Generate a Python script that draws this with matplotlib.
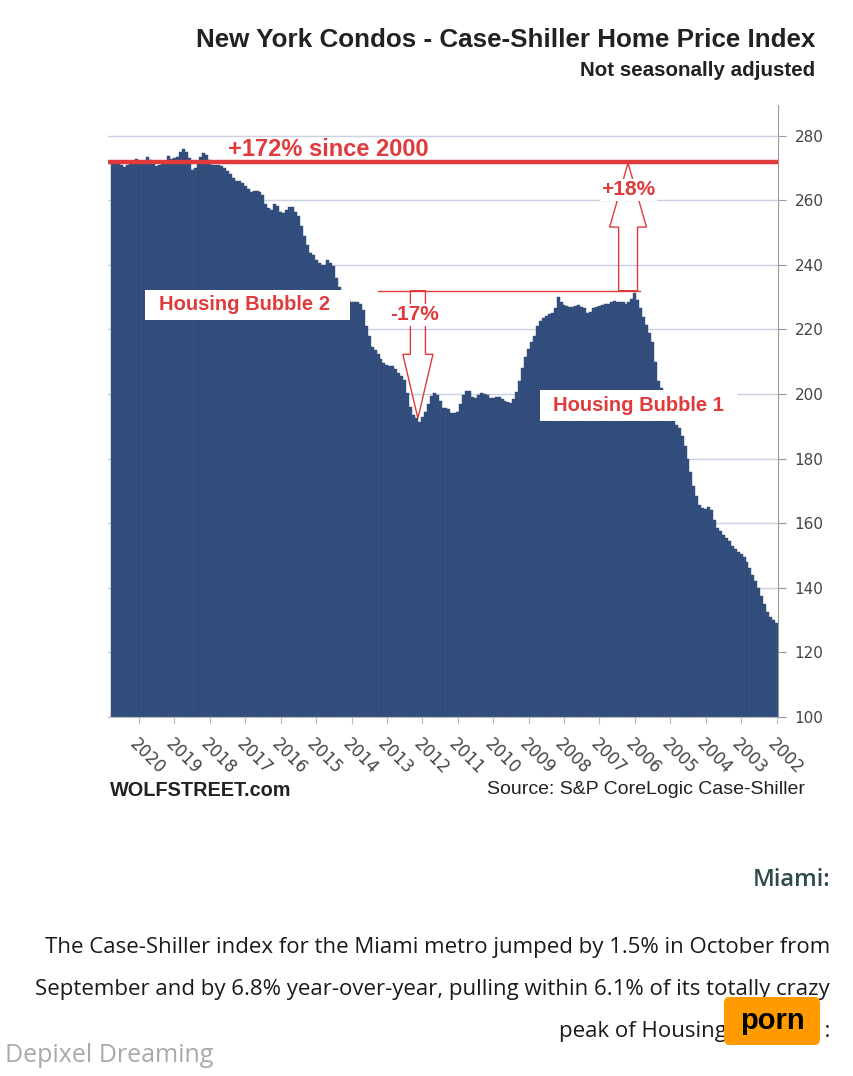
import matplotlib
matplotlib.use("Agg")
import matplotlib.pyplot as plt
from matplotlib.patches import Rectangle, FancyArrow, FancyBboxPatch
import numpy as np

# monthly index, Jan 2002 .. Oct 2020
index_values = [
    # 2002
    129, 130, 131, 132.5, 135, 137.5, 140, 142, 144, 146, 148, 149.5,
    # 2003
    150.5, 151, 152, 153, 154.5, 155.5, 156.5, 157.5, 158.5, 161, 164, 165,
    # 2004
    164.5, 164.8, 165.6, 168.5, 171.5, 176, 180, 184, 187, 189.5, 190.5, 193,
    # 2005
    195, 197.5, 200, 202, 204, 210, 216, 219, 221.5, 224, 226.5, 229,
    # 2006
    231.3, 229.5, 228.5, 228, 228.5, 228.5, 228.5, 228.8, 228.5, 228, 227.8, 227.5,
    # 2007
    227.2, 227, 226.5, 225.5, 225, 226.5, 227, 227.5, 227.2, 227, 227, 227.2,
    # 2008
    227.5, 228.5, 230, 226.6, 225, 224.7, 224.2, 223.5, 222.5, 221, 218, 216,
    # 2009
    214, 211.5, 208, 204, 200.5, 198.5, 197.3, 197.5, 198, 198.5, 199, 199,
    # 2010
    198.8, 198.8, 199.7, 200, 200.3, 199.7, 198.8, 199, 201, 200.8, 199.8, 197,
    # 2011
    194.4, 194, 194.2, 195.5, 195.7, 195.7, 198, 199.7, 200.3, 199.5, 197, 194.5,
    # 2012
    193, 191.3, 192.5, 193.5, 196, 200.3, 204.5, 205.6, 206.5, 207.8, 208.6, 208.8,
    # 2013
    209, 209.7, 210.7, 212.5, 213.5, 214.6, 218, 221, 226, 228, 228.5, 228.5,
    # 2014
    228.5, 229.5, 230.5, 231.5, 233, 236, 239.5, 240.5, 241.5, 240, 240, 240.5,
    # 2015
    241.5, 243, 243.7, 246, 249, 252, 255, 256.5, 258, 258, 257, 256,
    # 2016
    256.5, 258.3, 258.8, 257, 257.5, 259, 261.6, 262.5, 263, 263, 262.5, 263.5,
    # 2017
    264.5, 265.5, 266, 266, 266.8, 268, 269, 270, 270.6, 271, 271, 271,
    # 2018
    272.5, 274, 274.6, 273.5, 271.5, 270, 269.3, 273, 275, 275.9, 275, 273.4,
    # 2019
    273, 272.8, 273.7, 272, 271.5, 271, 270.6, 271.8, 272.5, 273.4, 272, 271.8,
    # 2020
    271.8, 272.8, 272, 271.5, 270.8, 270.3, 271, 271.2, 271.2, 271.2,
]
years = list(range(2002, 2021))
year_labels = [str(y) for y in years]
y_ticks = [100, 120, 140, 160, 180, 200, 220, 240, 260, 280]

since_2000 = 272      # +172% since Jan 2000 = 100
bubble1_peak = 232
bubble2_trough = 192.5

NAVY = "#34507e"
RED = "#e03a3c"
GREY = "#444444"

fig = plt.figure(figsize=(8.54, 10.76), dpi=100)
W, H = 854, 1076
ax = fig.add_axes([108 / W, 1 - 717 / H, 670 / W, 612 / H])

x = np.arange(len(index_values))
ax.bar(x, index_values, width=1.0, color=NAVY, edgecolor="#2c4672", linewidth=0.3, zorder=2)

ax.set_xlim(len(index_values) + 0.5, -0.5)   # mirrored: newest on the left
ax.set_ylim(100, 289.5)
ax.yaxis.tick_right()
ax.set_yticks(y_ticks)
ax.tick_params(axis="y", length=6, color="#999999", labelsize=11, labelcolor=GREY, pad=6)
ax.set_xticks([12 * (y - 2002) for y in years])
ax.set_xticklabels(year_labels, rotation=-45, ha="left", va="top", rotation_mode="anchor")
ax.tick_params(axis="x", length=5, color="#bbbbbb", labelsize=12, labelcolor=GREY, pad=8)

for s in ["top", "left"]:
    ax.spines[s].set_visible(False)
ax.spines["right"].set_color("#999999")
ax.spines["bottom"].set_color("#bbbbbb")
ax.yaxis.grid(True, color="#c9d1e3", lw=1)
ax.set_axisbelow(True)

# +172% line
ax.axhline(since_2000, color=RED, lw=3.2, zorder=4)
ax.text(152, 275.6, "+172% since 2000", color=RED, fontsize=17, fontweight="bold",
        family="Liberation Sans", ha="center", va="center", zorder=5)

# thin line at the bubble 1 peak
ax.plot([135, 46.3], [bubble1_peak, bubble1_peak], color=RED, lw=1, zorder=4)

# hollow arrows
ax.add_patch(FancyArrow(121.5, bubble1_peak, 0, bubble2_trough - bubble1_peak, width=5.1,
                        head_width=10.2, head_length=19.8, length_includes_head=True,
                        facecolor="none", edgecolor=RED, lw=1, zorder=4))
ax.add_patch(FancyArrow(50.3, bubble1_peak, 0, since_2000 - 0.5 - bubble1_peak, width=6.4,
                        head_width=12.5, head_length=19.8, length_includes_head=True,
                        facecolor="none", edgecolor=RED, lw=1, zorder=4))
ax.text(122.6, 224.5, "-17%", color=RED, fontsize=15, fontweight="bold", family="Liberation Sans",
        ha="center", va="center", zorder=5,
        bbox=dict(facecolor="white", edgecolor="none", pad=1))
ax.text(50.3, 263.2, "+18%", color=RED, fontsize=15, fontweight="bold", family="Liberation Sans",
        ha="center", va="center", zorder=5,
        bbox=dict(facecolor="white", edgecolor="none", pad=1))

# bubble labels
ax.add_patch(Rectangle((144.6, 222.9), 214.1 - 144.6, 232.2 - 222.9, facecolor="white",
                       edgecolor="none", zorder=5))
ax.text(180.2, 227.6, "Housing Bubble 2", color=RED, fontsize=14.5, fontweight="bold",
        family="Liberation Sans", ha="center", va="center", zorder=6)
ax.add_patch(Rectangle((13.5, 191.6), 80.2 - 13.5, 201.2 - 191.6, facecolor="white",
                       edgecolor="none", zorder=5))
ax.text(46.8, 196.6, "Housing Bubble 1", color=RED, fontsize=14.5, fontweight="bold",
        family="Liberation Sans", ha="center", va="center", zorder=6)

# titles and credits
fig.text(815 / W, 1 - 40 / H, "New York Condos - Case-Shiller Home Price Index", ha="right",
         va="center", fontsize=18.7, fontweight="bold", family="Liberation Sans", color="#222222")
fig.text(815 / W, 1 - 70 / H, "Not seasonally adjusted", ha="right", va="center",
         fontsize=14.8, fontweight="bold", family="Liberation Sans", color="#222222")
fig.text(110 / W, 1 - 790 / H, "WOLFSTREET.com", ha="left", va="center", fontsize=14.3,
         fontweight="bold", family="Liberation Sans", color="#222222")
fig.text(805 / W, 1 - 790 / H, "Source: S&P CoreLogic Case-Shiller", ha="right", va="center",
         fontsize=14, family="Liberation Sans", color="#222222")

# article text below the chart
fig.text(830 / W, 1 - 880 / H, "Miami:", ha="right", va="center", fontsize=17,
         fontweight="semibold", family="Open Sans", color="#2e4a4f")
lines = [
    "The Case-Shiller index for the Miami metro jumped by 1.5% in October from",
    "September and by 6.8% year-over-year, pulling within 6.1% of its totally crazy",
    "peak of Housing Bubble 1:",
]
for k, line in enumerate(lines):
    fig.text(830 / W, 1 - (948 + 42 * k) / H, line, ha="right", va="center", fontsize=16,
             family="Open Sans", color="#1a1a1a")

fig.patches.append(FancyBboxPatch((724 / W, 1 - 1045 / H), 96 / W, 48 / H,
                                  boxstyle="round,pad=0,rounding_size=0.006",
                                  transform=fig.transFigure, facecolor="#ff9a00",
                                  edgecolor="none", zorder=10))
fig.text(772 / W, 1 - 1021 / H, "porn", ha="center", va="center", fontsize=21,
         fontweight="bold", family="Liberation Sans", color="black", zorder=11)
fig.text(5 / W, 1 - 1056 / H, "Depixel Dreaming", ha="left", va="center", fontsize=18,
         family="Open Sans", color="#aaaaaa")

fig.savefig("out.png", dpi=100)
